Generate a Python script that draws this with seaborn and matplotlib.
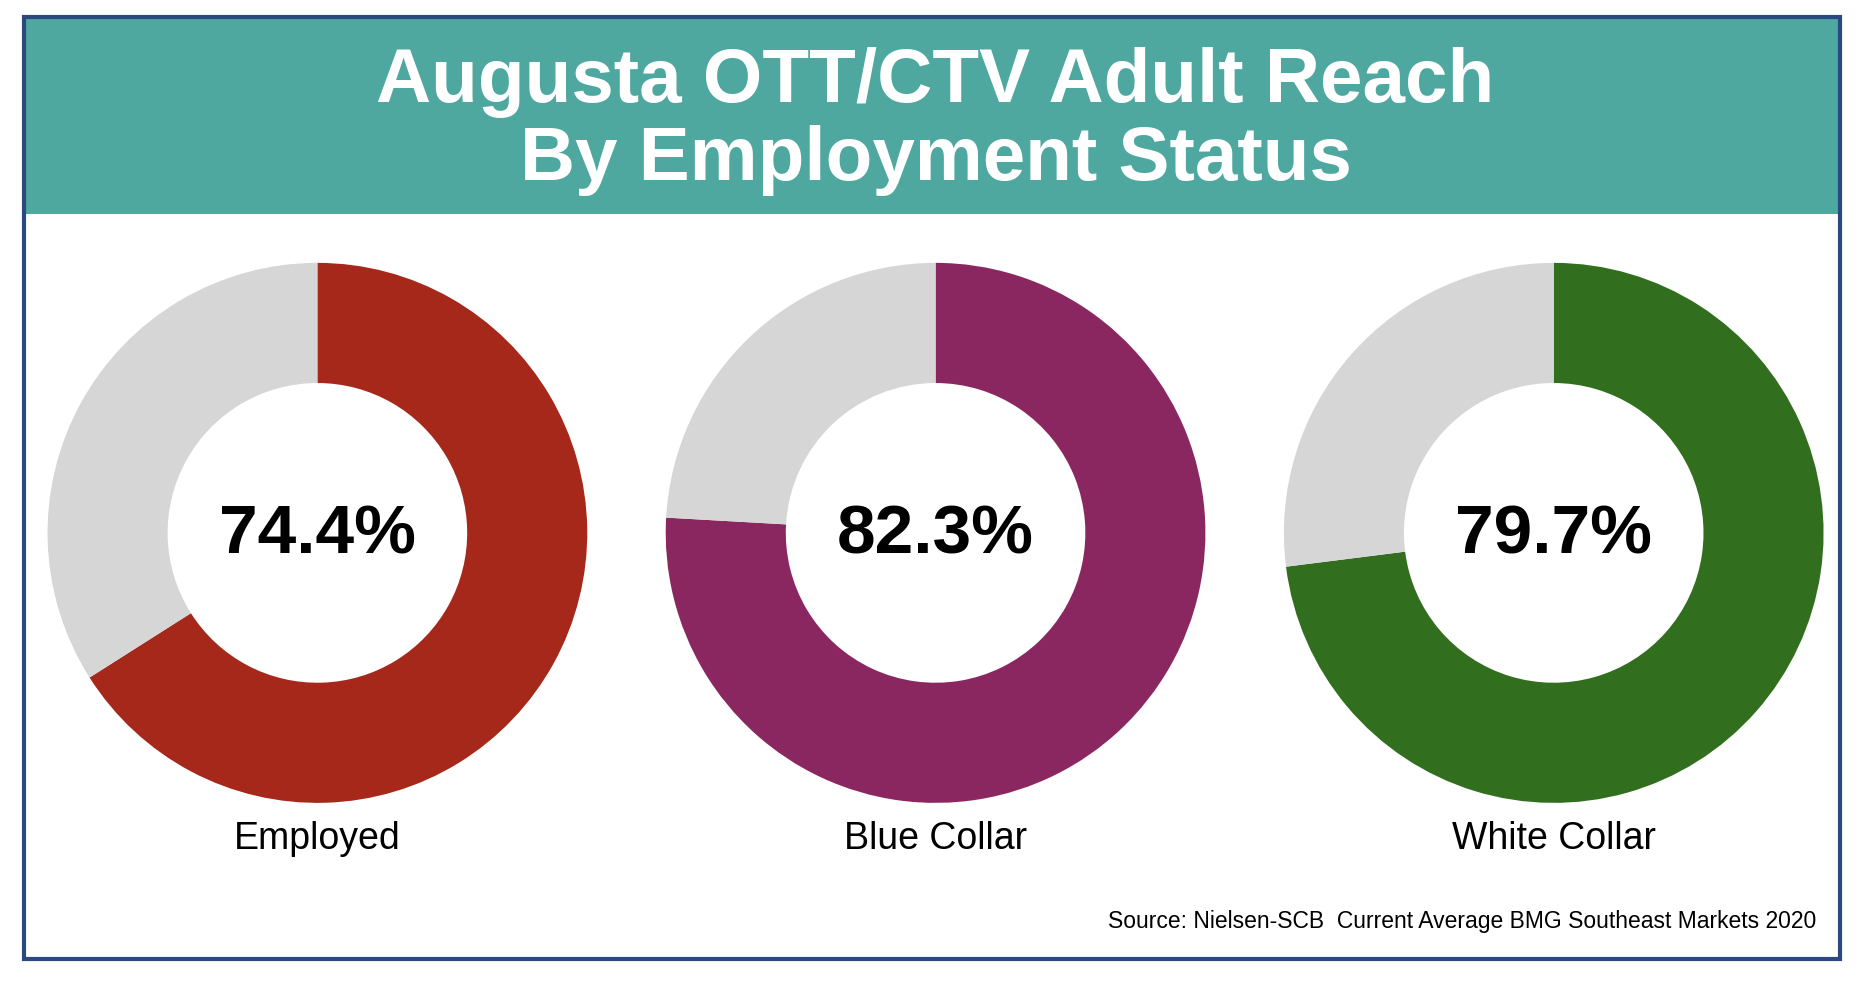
import matplotlib
matplotlib.use("Agg")
import matplotlib.pyplot as plt
import seaborn as sns
from matplotlib.patches import Rectangle

sns.set_theme(style="white")
plt.rcParams['font.family'] = ['Liberation Sans', 'DejaVu Sans']

categories = ["Employed", "Blue Collar", "White Collar"]
values = [74.4, 82.3, 79.7]            # printed labels
arc_shares = [66.0, 75.9, 73.0]        # coloured arc share as drawn in the reference
colors = ["#A5281A", "#8B2760", "#316E1E"]
gray = "#D6D6D6"
title = "Augusta OTT/CTV Adult Reach\nBy Employment Status"
source = "Source: Nielsen-SCB  Current Average BMG Southeast Markets 2020"

W, H = 1568, 834
fig = plt.figure(figsize=(18.64, 9.92), dpi=100)
fig.patch.set_facecolor("white")

def fx(x): return x / W
def fy(y): return 1 - y / H

fig.patches.append(Rectangle((fx(20), fy(180)), fx(1548) - fx(20), fy(14) - fy(180),
                             transform=fig.transFigure, facecolor="#4EA8A0", edgecolor="none", zorder=0))
fig.patches.append(Rectangle((fx(20), fy(806)), fx(1548) - fx(20), fy(14) - fy(806),
                             transform=fig.transFigure, facecolor="none", edgecolor="#2A4A7F", lw=3, zorder=5))
fig.text(fx(787), fy(102), title, ha="center", va="center", color="white",
         fontsize=55, fontweight="bold", linespacing=1.12)

centers = [267, 787, 1307]
R = 227
for cx, cat, v, s, c in zip(centers, categories, values, arc_shares, colors):
    ax = fig.add_axes([fx(cx - R), fy(448 + R), 2 * R / W, 2 * R / H])
    ax.pie([s, 100 - s], colors=[c, gray], startangle=90, counterclock=False,
           radius=1, wedgeprops=dict(width=0.445, edgecolor="none"))
    ax.set_xlim(-1, 1); ax.set_ylim(-1, 1)
    ax.set_aspect("auto")
    ax.axis("off")
    ax.text(0, -0.01, f"{v}%", ha="center", va="center", fontsize=50, fontweight="bold", color="black")
    fig.text(fx(cx), fy(705), cat, ha="center", va="center", fontsize=27, color="black")

fig.text(fx(1528), fy(775), source, ha="right", va="center", fontsize=16.5, color="black")

fig.savefig("out.png", dpi=100, facecolor="white")
